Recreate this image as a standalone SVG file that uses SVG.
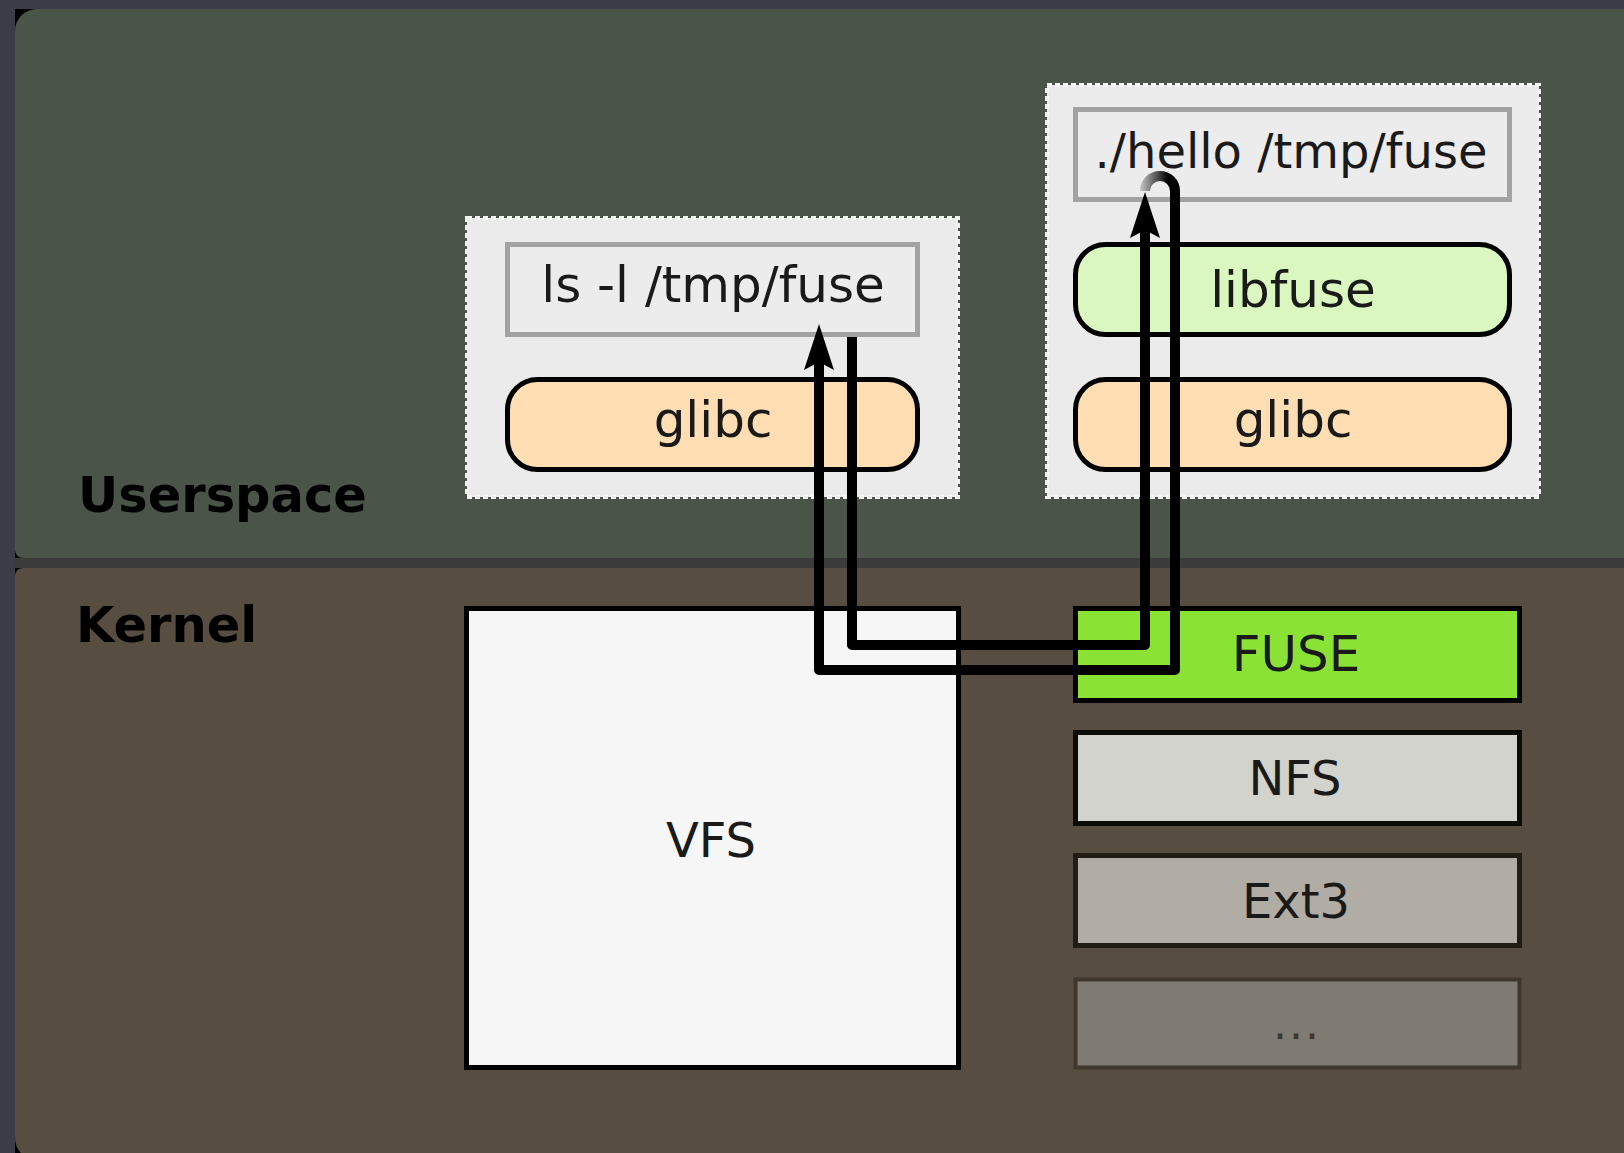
<svg xmlns="http://www.w3.org/2000/svg" width="1624" height="1153" viewBox="0 0 1624 1153">
<style>
  text { font-family: "DejaVu Sans", "Liberation Sans", sans-serif; fill: #1a1a1a; text-anchor: middle; }
  .label { font-weight: bold; fill: #000; text-anchor: start; font-size: 49.5px; }
  .box { font-size: 50px; }
  .kbox { font-size: 48px; }
  .cont { fill: #ebebeb; stroke: #f4f4f4; stroke-width: 4; stroke-dasharray: 5 3; }
  .cmd { fill: #ececec; stroke: #a2a2a2; stroke-width: 5; }
  .lib { stroke: #000; stroke-width: 5; }
  .wire { fill: none; stroke: #000; stroke-width: 10; stroke-linejoin: round; }
</style>
<defs>
  <marker id="ah" markerUnits="userSpaceOnUse" viewBox="-50 -20 60 40" refX="-34" refY="0" markerWidth="60" markerHeight="40" orient="auto">
    <path d="M0,0 L-46,-15 L-38,0 L-46,15 Z" fill="#000"/>
  </marker>
  <linearGradient id="arcgrad" gradientUnits="userSpaceOnUse" x1="1140" y1="0" x2="1168" y2="0">
    <stop offset="0" stop-color="#c8c8c8"/>
    <stop offset="1" stop-color="#000"/>
  </linearGradient>
</defs>

<rect x="0" y="0" width="1624" height="1153" fill="#3c3c48"/>

<g id="userspace">
  <rect x="15" y="9" width="26" height="26" fill="#000"/>
  <rect x="15" y="540" width="12" height="44" fill="#000"/>
  <rect x="15" y="1128" width="26" height="25" fill="#000"/>
  <rect x="15" y="558" width="1609" height="10" fill="#3b3b3b"/>
  <path d="M15,31 A22,22 0 0 1 37,9 H1624 V558 H23 A8,8 0 0 1 15,550 Z" fill="#4b5449"/>
  <text class="label" x="78" y="512">Userspace</text>
</g>

<g id="kernel">
  <path d="M15,576 A8,8 0 0 1 23,568 H1624 V1160 H37 A22,22 0 0 1 15,1138 Z" fill="#574e41"/>
  <text class="label" x="76" y="642">Kernel</text>
</g>

<g id="ls-process">
  <rect class="cont" x="467" y="218" width="491" height="279"/>
  <g id="ls-cmd">
    <rect class="cmd" x="507.5" y="244.5" width="410" height="90"/>
    <text class="box" x="713" y="302">ls -l /tmp/fuse</text>
  </g>
  <g id="ls-glibc">
    <rect class="lib" x="507.5" y="379.5" width="410" height="90" rx="30" fill="#ffdeb4"/>
    <text class="box" x="713" y="437">glibc</text>
  </g>
</g>

<g id="hello-process">
  <rect class="cont" x="1047" y="85" width="492" height="412"/>
  <g id="hello-cmd">
    <rect class="cmd" x="1075.5" y="109.5" width="434" height="90"/>
    <text class="kbox" x="1291" y="168">./hello /tmp/fuse</text>
  </g>
  <g id="libfuse">
    <rect class="lib" x="1075.5" y="244.5" width="434" height="90" rx="30" fill="#d9f7bf"/>
    <text class="box" x="1293" y="307">libfuse</text>
  </g>
  <g id="hello-glibc">
    <rect class="lib" x="1075.5" y="379.5" width="434" height="90" rx="30" fill="#ffdeb4"/>
    <text class="box" x="1293" y="437">glibc</text>
  </g>
</g>

<g id="vfs">
  <rect x="466.5" y="608.5" width="492" height="459" fill="#f6f6f6" stroke="#000" stroke-width="5"/>
  <text class="kbox" x="711" y="857">VFS</text>
</g>

<g id="fuse">
  <rect x="1075.5" y="608.5" width="444" height="92" fill="#8ae234" stroke="#000" stroke-width="5"/>
  <text class="box" x="1296" y="671">FUSE</text>
</g>

<g id="nfs">
  <rect x="1075.5" y="732.5" width="444" height="91" fill="#d3d3ce" stroke="#0d0b08" stroke-width="5"/>
  <text class="kbox" x="1295" y="795">NFS</text>
</g>

<g id="ext3">
  <rect x="1075.5" y="855.5" width="444" height="90" fill="#b1ada5" stroke="#201c16" stroke-width="5"/>
  <text class="kbox" x="1296" y="918" fill="#222">Ext3</text>
</g>

<g id="other">
  <rect x="1075.5" y="979.5" width="444" height="88" fill="#7f7a72" stroke="#3d372d" stroke-width="4"/>
  <text class="kbox" x="1297" y="1039" style="fill:#3c3730;letter-spacing:2px;font-size:44px">...</text>
</g>

<g id="connectors">
  <path class="wire" d="M852,337 V645 H1145 V226" marker-end="url(#ah)"/>
  <path class="wire" d="M1175,191 V670 H819 V358" marker-end="url(#ah)"/>
  <path d="M1145,191 A15,15 0 0 1 1175,191" fill="none" stroke="url(#arcgrad)" stroke-width="10"/>
</g>
</svg>
